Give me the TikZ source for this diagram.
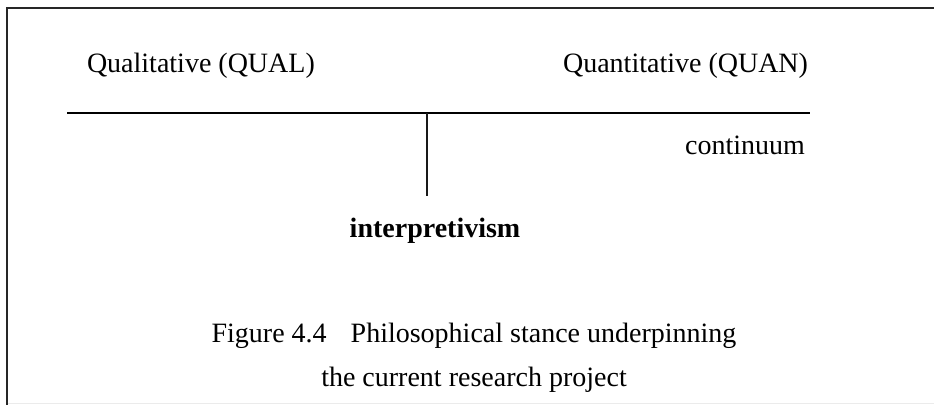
\documentclass[tikz,border=0pt]{standalone}
\usepackage{fontspec}
\setmainfont{Liberation Serif}
\begin{document}
\begin{tikzpicture}[x=1pt,y=1pt,
  lbl/.style={inner sep=0pt,outer sep=0pt,font=\fontsize{28}{34}\selectfont},
  frame/.style={line width=2pt,draw=black!85},
  axis/.style={line width=2.2pt,draw=black},
  tick/.style={line width=1.5pt,draw=black!90}]
  \useasboundingbox (0,0) rectangle (934,-405);
  % page frame: top and left edges, faint bottom edge
  \coordinate (fTL) at (7,-8);
  \coordinate (fTR) at (934,-8);
  \coordinate (fBL) at (7,-405);
  \coordinate (bL) at (8,-403.5);
  \coordinate (bR) at (934,-403.5);
  \draw[frame] (fTR) -- (fTL) -- (fBL);
  \draw[line width=0.8pt,draw=black!8] (bL) -- (bR);
  % continuum axis and its marker
  \coordinate (axL) at (67,-113);
  \coordinate (axR) at (810,-113);
  \coordinate (mkT) at (427,-113);
  \coordinate (mkB) at (427,-196);
  \draw[axis] (axL) -- (axR);
  \draw[tick] (mkT) -- (mkB);
  % labels
  \node[lbl,anchor=base west] (qual) at (87,-72) {Qualitative (QUAL)};
  \node[lbl,anchor=base east] (quan) at (808,-72) {Quantitative (QUAN)};
  \node[lbl,anchor=base east] (cont) at (805,-154) {continuum};
  \node[lbl,anchor=base,font=\fontsize{28}{34}\selectfont\bfseries] (interp) at (435,-237) {interpretivism};
  % caption
  \node[lbl,anchor=base] (cap1) at (474,-342) {Figure 4.4\hspace{24pt}Philosophical stance underpinning};
  \node[lbl,anchor=base] (cap2) at (474,-386) {the current research project};
\end{tikzpicture}
\end{document}
